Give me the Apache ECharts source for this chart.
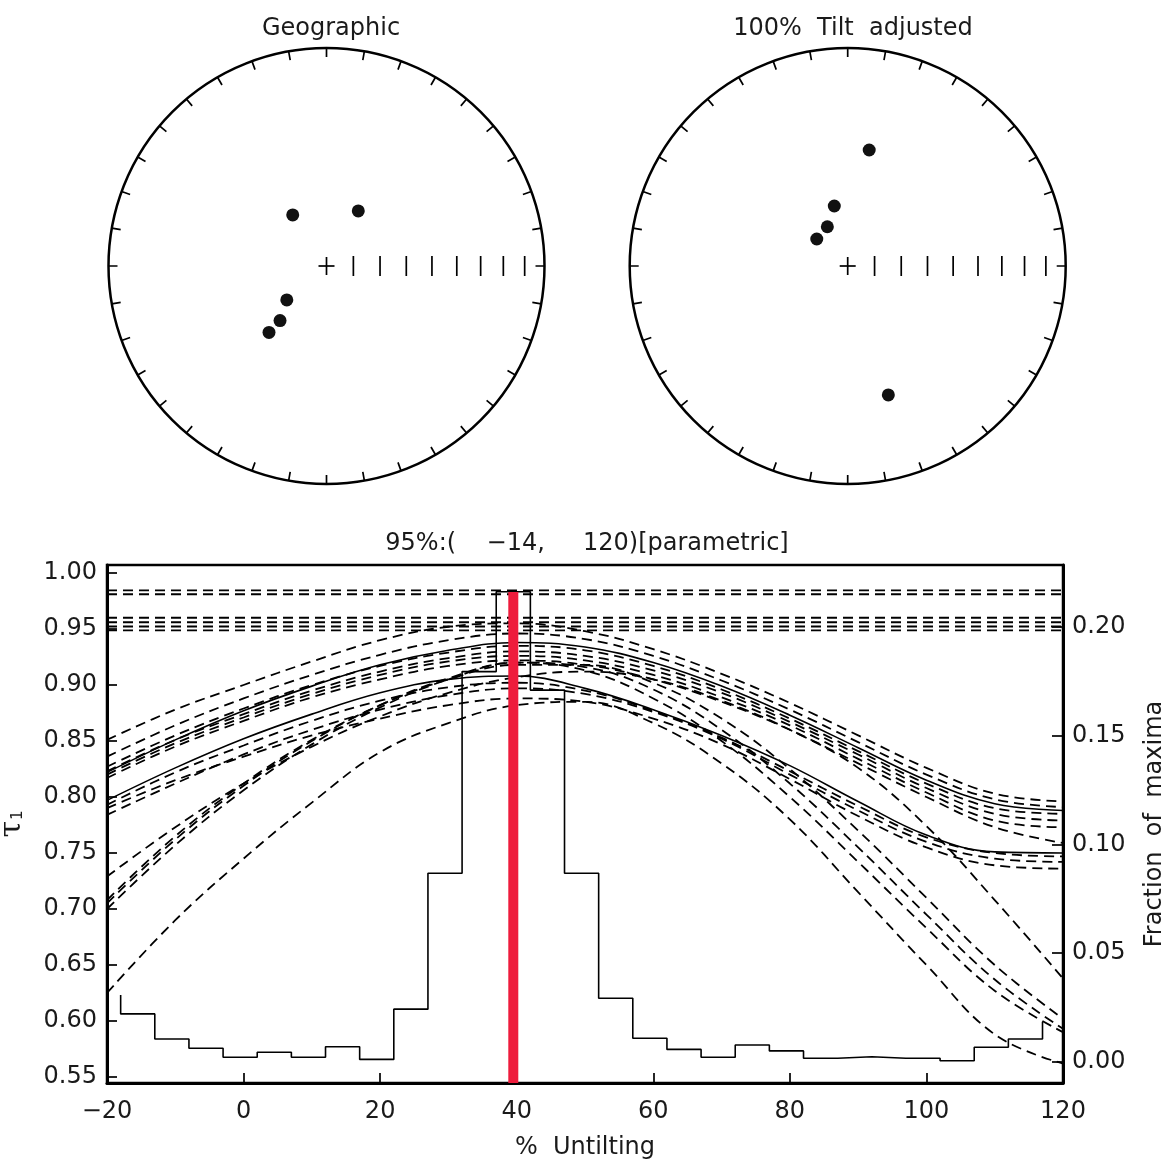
<!DOCTYPE html>
<html><head><meta charset="utf-8">
<script src="https://cdn.jsdelivr.net/npm/echarts@6/dist/echarts.min.js"></script>
<style>html,body{margin:0;padding:0;background:#fff}#c{width:1174px;height:1163px}</style>
</head><body><div id="c"></div>
<script>
// ---------- data ----------
const untilt = [-20,-10,0,10,20,30,40,50,60,70,80,90,100,110,120];
// bootstrap tau1 curves (dashed)
const tauA1 = [0.851,0.878,0.900,0.921,0.940,0.952,0.955,0.948,0.932,0.910,0.884,0.855,0.826,0.803,0.796];
const tauA2 = [0.836,0.864,0.888,0.909,0.927,0.940,0.946,0.941,0.926,0.904,0.878,0.849,0.820,0.798,0.791];
const tauA3 = [0.827,0.855,0.879,0.900,0.917,0.929,0.935,0.931,0.917,0.896,0.870,0.841,0.812,0.790,0.785];
const tauA4 = [0.823,0.851,0.874,0.895,0.912,0.924,0.930,0.926,0.913,0.893,0.867,0.838,0.808,0.785,0.779];
const tauA5 = [0.820,0.848,0.871,0.892,0.909,0.921,0.926,0.922,0.909,0.889,0.864,0.834,0.804,0.779,0.773];
const tauA6 = [0.817,0.845,0.868,0.889,0.905,0.917,0.922,0.918,0.905,0.885,0.860,0.830,0.800,0.773,0.759];
const tauB1 = [0.793,0.822,0.846,0.868,0.886,0.898,0.902,0.895,0.877,0.853,0.823,0.792,0.764,0.750,0.747];
const tauB2 = [0.784,0.812,0.838,0.860,0.878,0.891,0.897,0.892,0.876,0.852,0.820,0.788,0.760,0.745,0.742];
const tauB3 = [0.790,0.815,0.836,0.855,0.870,0.882,0.888,0.885,0.870,0.847,0.816,0.783,0.755,0.739,0.736];
const tauC1 = [0.729,0.773,0.812,0.845,0.872,0.893,0.907,0.912,0.905,0.886,0.860,0.826,0.774,0.708,0.638];
const tauC2 = [0.708,0.765,0.812,0.851,0.882,0.905,0.918,0.918,0.902,0.870,0.825,0.770,0.710,0.650,0.602];
const tauC3 = [0.705,0.762,0.810,0.850,0.882,0.906,0.920,0.916,0.896,0.860,0.812,0.755,0.695,0.637,0.593];
const tauC4 = [0.700,0.757,0.806,0.847,0.880,0.905,0.920,0.913,0.888,0.850,0.800,0.742,0.683,0.627,0.590];
const tauC5 = [0.625,0.690,0.745,0.795,0.840,0.866,0.882,0.885,0.866,0.830,0.780,0.715,0.650,0.588,0.562];
// data tau1 curves (solid)
const tauS1 = [0.822,0.851,0.877,0.899,0.918,0.931,0.938,0.934,0.920,0.899,0.873,0.844,0.815,0.794,0.788];
const tauS2 = [0.797,0.826,0.852,0.874,0.893,0.905,0.908,0.897,0.878,0.855,0.828,0.796,0.766,0.751,0.750];
// flat dashed levels
const flatTau = [0.9845,0.9810,0.9600,0.9560,0.9522,0.9488];
// histogram of maxima (fraction), bins of 5 %
const histEdges = [-18,-13,-8,-3,2,7,12,17,22,27,32,37,42,47,52,57,62,67,72,77,82,87,92,97,102,107,112,117];
const histFrac = [0.0221,0.0106,0.0063,0.0022,0.0045,0.0022,0.0070,0.0012,0.0243,0.0868,0.1795,0.2162,0.1710,0.0868,0.0293,0.0109,0.0058,0.0022,0.0078,0.0051,0.0017,0.0024,0.0017,0.0017,0.0006,0.0068,0.0106];
const histEndLeft = 0.0308, histEndRight = 0.0185;
// best untilting marker
const bestUntilt = 39.5, bestTop = 0.983;
// axis ticks
const tauTicks = [0.55,0.60,0.65,0.70,0.75,0.80,0.85,0.90,0.95,1.00];
const fracTicks = [0.00,0.05,0.10,0.15,0.20];
// stereonets: declination / inclination
const geoDec = [326.5, 30.0, 229.5, 220.4, 220.9];
const geoInc = [67.1, 66.2, 70.5, 63.1, 56.9];
const tiltDec = [10.5, 347.4, 332.6, 311.1, 162.5];
const tiltInc = [45.0, 67.0, 73.5, 74.7, 38.0];
const incScale = [80,70,60,50,40,30,20,10];

// ---------- build ----------
const FONT = 'DejaVu Sans';
const TXT = '#1a1a1a';
const ea = inc => Math.SQRT2 * Math.sin((90 - inc) / 2 * Math.PI / 180); // equal-area radius
const minus = v => String(v).replace('-', '\u2212');
const tauMin = 0.54464, tauMax = 1.00714;

const dashed = [tauA1,tauA2,tauA3,tauA4,tauA5,tauA6,tauB1,tauB2,tauB3,tauC1,tauC2,tauC3,tauC4,tauC5];
const solid = [tauS1, tauS2];

const series = [];
flatTau.forEach(v => series.push({
  type:'line', xAxisIndex:0, yAxisIndex:0, data:[[-20,v],[120,v]], showSymbol:false, silent:true,
  lineStyle:{color:'#000', width:1.9, type:[10,6]}
}));
dashed.forEach(arr => series.push({
  type:'line', xAxisIndex:0, yAxisIndex:0, data: untilt.map((x,i)=>[x,arr[i]]), showSymbol:false, smooth:0.4, silent:true,
  lineStyle:{color:'#000', width:1.8, type:[10,6]}
}));
solid.forEach(arr => series.push({
  type:'line', xAxisIndex:0, yAxisIndex:0, data: untilt.map((x,i)=>[x,arr[i]]), showSymbol:false, smooth:0.4, silent:true,
  lineStyle:{color:'#000', width:1.6}
}));
// histogram outline
const histPts = [[histEdges[0], histEndLeft]];
histFrac.forEach((f,i) => { histPts.push([histEdges[i], f]); histPts.push([histEdges[i+1], f]); });
histPts.push([histEdges[histEdges.length-1], histEndRight]);
series.push({type:'line', xAxisIndex:0, yAxisIndex:1, data:histPts, showSymbol:false, silent:true,
  lineStyle:{color:'#000', width:1.6}});
// red marker
series.push({type:'line', xAxisIndex:0, yAxisIndex:0, z:5, data:[[bestUntilt,tauMin],[bestUntilt,bestTop]], showSymbol:false, silent:true,
  lineStyle:{color:'#ee1c3c', width:10, cap:'butt'}});

// stereonets
function net(idx, dec, inc){
  series.push({type:'scatter', coordinateSystem:'polar', polarIndex:idx, silent:true,
    data: incScale.map(i => [ea(i), 90]), symbol:'rect', symbolSize:[1.7,20], itemStyle:{color:'#000', opacity:1}});
  series.push({type:'scatter', coordinateSystem:'polar', polarIndex:idx, silent:true,
    data: [{value:[0,0], symbolSize:[1.7,18]},{value:[0,0], symbolSize:[16,1.7]}], symbol:'rect', itemStyle:{color:'#000', opacity:1}});
  series.push({type:'scatter', coordinateSystem:'polar', polarIndex:idx, silent:true,
    data: dec.map((d,i) => [ea(inc[i]), d]), symbol:'circle', symbolSize:13, itemStyle:{color:'#111', opacity:1}});
}
net(0, geoDec, geoInc);
net(1, tiltDec, tiltInc);

const angleAx = i => ({polarIndex:i, type:'value', min:0, max:360, interval:10, startAngle:90, clockwise:true,
  axisLine:{lineStyle:{color:'#000', width:2.5}}, axisTick:{inside:true, length:9, lineStyle:{color:'#000', width:1.7}},
  axisLabel:{show:false}, splitLine:{show:false}});
const radAx = i => ({polarIndex:i, type:'value', min:0, max:1, axisLine:{show:false}, axisTick:{show:false},
  axisLabel:{show:false}, splitLine:{show:false}});

const lblStyle = {color:TXT, fontSize:24, fontFamily:FONT};
const ttl = {fontSize:24, fontWeight:'normal', color:TXT, fontFamily:FONT};

const option = {
  animation:false,
  backgroundColor:'#fff',
  textStyle:{fontFamily:FONT},
  title:[
    {text:'Geographic', left:326, top:12, textAlign:'center', textStyle:ttl},
    {text:'100%  Tilt  adjusted', left:848, top:12, textAlign:'center', textStyle:ttl},
    {text:'95%:(    \u221214,     120)[parametric]', left:582, top:527, textAlign:'center', textStyle:ttl}
  ],
  polar:[{center:[326.5,266], radius:218},{center:[847.7,266], radius:218}],
  angleAxis:[angleAx(0), angleAx(1)],
  radiusAxis:[radAx(0), radAx(1)],
  grid:{left:107, top:565, width:956, height:518, containLabel:false, outerBoundsMode:'none',
    show:true, borderColor:'#000', borderWidth:2.5},
  xAxis:{type:'value', min:-20, max:120, interval:20,
    axisLine:{onZero:false, lineStyle:{color:'#000', width:3}},
    axisTick:{inside:true, length:10, lineStyle:{color:'#000', width:1.7}},
    axisLabel:Object.assign({margin:17, formatter:v=>minus(v)}, lblStyle),
    splitLine:{show:false},
    name:'%  Untilting', nameLocation:'middle', nameGap:53, nameTextStyle:Object.assign({}, lblStyle)},
  yAxis:[
    {type:'value', position:'left', min:tauMin, max:tauMax,
      axisLine:{onZero:false, lineStyle:{color:'#000', width:3}},
      axisTick:{inside:true, length:10, customValues:tauTicks, lineStyle:{color:'#000', width:1.7}},
      axisLabel:Object.assign({margin:10, customValues:tauTicks, formatter:v=>v.toFixed(2)}, lblStyle),
      splitLine:{show:false},
      name:'{t|\u03c4}{s|1}', nameLocation:'middle', nameGap:80, nameRotate:90,
      nameTextStyle:{color:TXT, fontFamily:FONT, rich:{t:{fontSize:30, fontFamily:'DejaVu Serif', color:TXT}, s:{fontSize:15, color:TXT, padding:[12,0,0,1]}}}},
    {type:'value', position:'right', min:-0.00966, max:0.22851,
      axisLine:{onZero:false, lineStyle:{color:'#000', width:3}},
      axisTick:{inside:true, length:11, customValues:fracTicks, lineStyle:{color:'#000', width:1.7}},
      axisLabel:Object.assign({margin:9, customValues:fracTicks, formatter:v=>v.toFixed(2)}, lblStyle),
      splitLine:{show:false},
      name:'Fraction  of  maxima', nameLocation:'middle', nameGap:80, nameRotate:90, nameTextStyle:Object.assign({}, lblStyle)}
  ],
  series: series
};
const chart = echarts.init(document.getElementById('c'), null, {renderer:'canvas'});
chart.setOption(option);
</script></body></html>
